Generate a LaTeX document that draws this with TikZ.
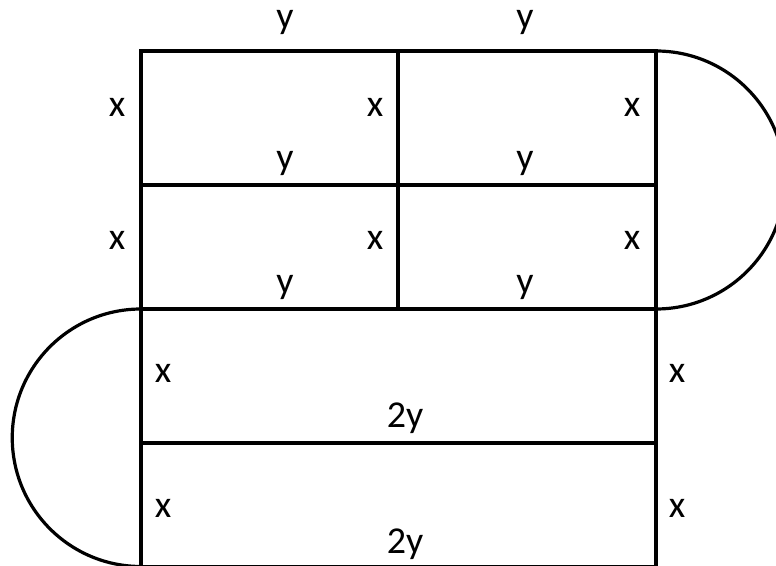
\documentclass[tikz,border=0pt]{standalone}
\usepackage{fontspec}
\setmainfont{Carlito}
\tikzset{lbl/.style={font=\fontsize{38}{42}\selectfont,inner sep=0pt}}

\begin{document}
\begin{tikzpicture}[x=1pt,y=1pt,line width=3.2pt]
\useasboundingbox (0,0) rectangle (776,565);
% corners of the grid
\coordinate (tl) at (141,514);
\coordinate (tm) at (398,514);
\coordinate (tr) at (656,514);
\coordinate (ml) at (141,380);
\coordinate (mr) at (656,380);
\coordinate (cl) at (141,256);
\coordinate (cm) at (398,256);
\coordinate (cr) at (656,256);
\coordinate (ll) at (141,122);
\coordinate (lr) at (656,122);
\coordinate (bl) at (141,-1.5);
\coordinate (br) at (656,-1.5);
%
\draw (tl) -- (tr) -- (br) -- (bl) -- cycle;
\draw (tm) -- (cm);
\draw (ml) -- (mr);
\draw (cl) -- (cr);
\draw (ll) -- (lr);
\draw (tr) arc[start angle=90,end angle=-90,radius=129];
\draw (cl) arc[start angle=90,end angle=270,radius=128.75];
%
\node[lbl] (y1) at (285,543) {y};
\node[lbl] (y2) at (525,543) {y};
\node[lbl] (x1) at (117,458) {x};
\node[lbl] (x2) at (375,458) {x};
\node[lbl] (x3) at (632,458) {x};
\node[lbl] (y3) at (285,402) {y};
\node[lbl] (y4) at (525,402) {y};
\node[lbl] (x4) at (117,325) {x};
\node[lbl] (x5) at (375,325) {x};
\node[lbl] (x6) at (632,325) {x};
\node[lbl] (y5) at (285,278) {y};
\node[lbl] (y6) at (525,278) {y};
\node[lbl] (x7) at (163,192) {x};
\node[lbl] (x8) at (677,192) {x};
\node[lbl] (w1) at (405,147) {2y};
\node[lbl] (x9) at (163,57) {x};
\node[lbl] (x10) at (677,57) {x};
\node[lbl] (w2) at (405,21) {2y};
\end{tikzpicture}
\end{document}
